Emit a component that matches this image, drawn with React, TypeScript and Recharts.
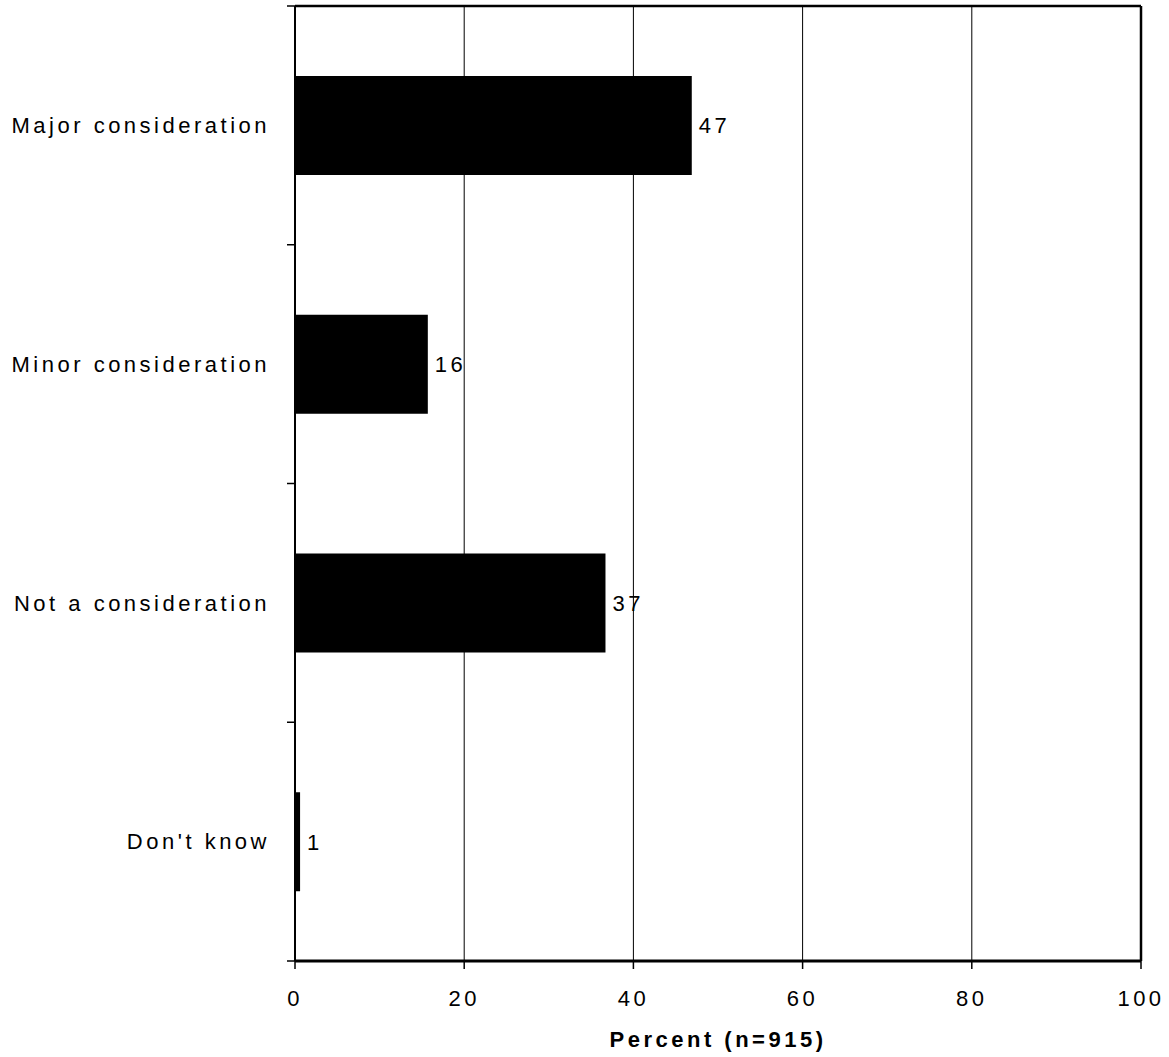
import React from "react";
import {
  BarChart,
  Bar,
  XAxis,
  YAxis,
  CartesianGrid,
  LabelList,
  Label,
  ReferenceLine,
} from "recharts";

const categories = [
  "Major consideration",
  "Minor consideration",
  "Not a consideration",
  "Don't know",
];
const percentValues = [46.9, 15.7, 36.7, 0.6];
const valueLabels = ["47", "16", "37", "1"];
const xTicks = [0, 20, 40, 60, 80, 100];
const axisTitle = "Percent (n=915)";

const data = categories.map((name, i) => ({
  name,
  value: percentValues[i],
  label: valueLabels[i],
}));

const CHART_W = 1169;
const CHART_H = 1057;
const MARGIN_TOP = 6;
const XAXIS_H = 96;
const TICK_SIZE = 8;
const TICK_MARGIN = 17;
const BAND = (CHART_H - MARGIN_TOP - XAXIS_H) / categories.length;

function CategoryTick(props: any) {
  const { x, y, payload, index } = props;
  const axisX = x + TICK_SIZE + TICK_MARGIN;
  const isLast = index === categories.length - 1;
  return (
    <g>
      <line
        x1={axisX - TICK_SIZE}
        x2={axisX}
        y1={y - BAND / 2}
        y2={y - BAND / 2}
        stroke="#000"
        strokeWidth={1.5}
      />
      {isLast && (
        <line
          x1={axisX - TICK_SIZE}
          x2={axisX}
          y1={y + BAND / 2}
          y2={y + BAND / 2}
          stroke="#000"
          strokeWidth={1.5}
        />
      )}
      <text x={x} y={y} dy="0.355em" textAnchor="end" fontSize={22} fill="#000">
        {payload.value}
      </text>
    </g>
  );
}

export default function App() {
  return (
    <div
      style={{
        position: "absolute",
        left: 0,
        top: 0,
        width: CHART_W,
        height: CHART_H,
        background: "#fff",
        fontFamily: "'Liberation Sans', Arial, sans-serif",
        letterSpacing: "3.5px",
      }}
    >
      <BarChart
        width={CHART_W}
        height={CHART_H}
        data={data}
        layout="vertical"
        margin={{ top: MARGIN_TOP, right: 28, left: 0, bottom: 0 }}
      >
        <CartesianGrid
          horizontal={false}
          vertical={true}
          stroke="#000"
          strokeWidth={1}
        />
        <CartesianGrid
          horizontal={true}
          vertical={false}
          stroke="#000"
          strokeWidth={2.5}
          horizontalCoordinatesGenerator={({ offset }: any) => [offset.top]}
        />
        <YAxis
          type="category"
          dataKey="name"
          width={295}
          tickLine={false}
          tickSize={TICK_SIZE}
          tickMargin={TICK_MARGIN}
          axisLine={{ stroke: "#000", strokeWidth: 2 }}
          tick={<CategoryTick />}
        />
        <XAxis
          type="number"
          domain={[0, 100]}
          ticks={xTicks}
          height={XAXIS_H}
          tickSize={TICK_SIZE}
          tickMargin={21}
          tick={{ fontSize: 22, fill: "#000" }}
          tickLine={{ stroke: "#000", strokeWidth: 1.5 }}
          axisLine={{ stroke: "#000", strokeWidth: 3 }}
        >
          <Label
            value={axisTitle}
            position="insideBottom"
            offset={10}
            fontSize={22}
            fontWeight="bold"
            fill="#000"
          />
        </XAxis>
        <ReferenceLine x={100} stroke="#000" strokeWidth={2.5} />
        <Bar
          dataKey="value"
          fill="#000"
          barSize={99}
          isAnimationActive={false}
        >
          <LabelList
            dataKey="label"
            position="right"
            offset={7}
            fontSize={22}
            fill="#000"
          />
        </Bar>
      </BarChart>
    </div>
  );
}
